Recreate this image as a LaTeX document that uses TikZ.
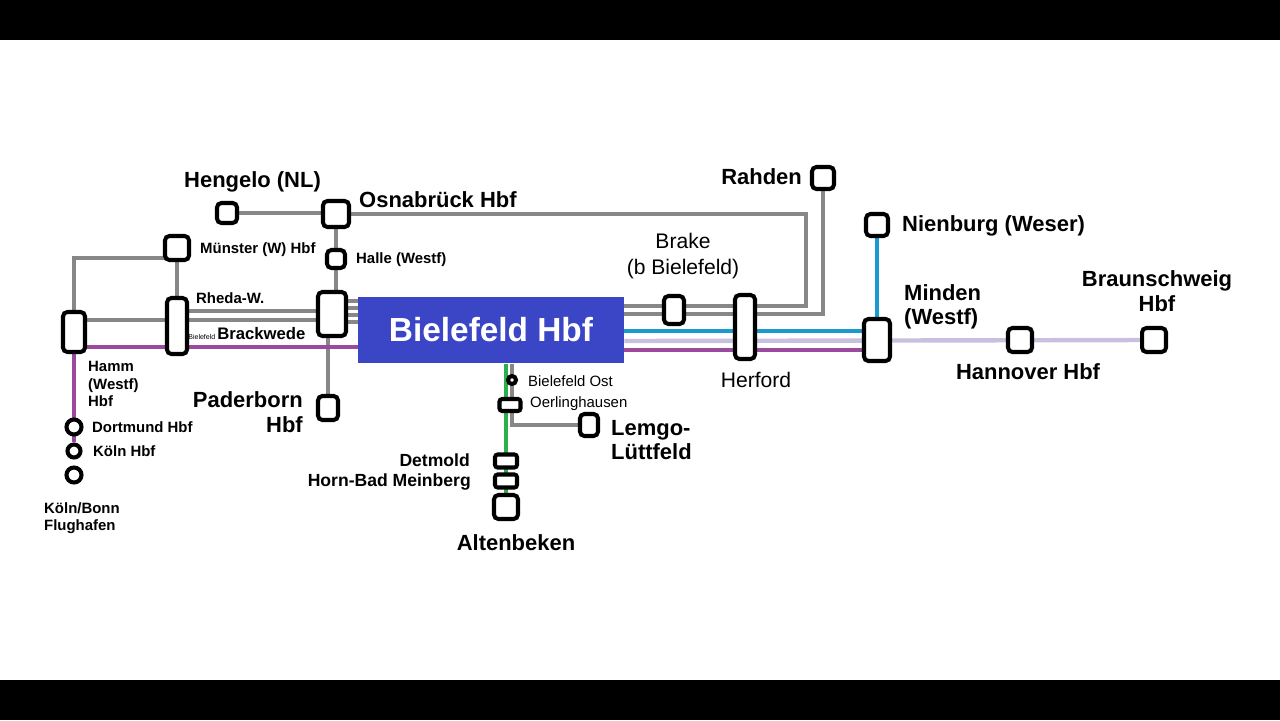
\documentclass[tikz,border=0pt]{standalone}
\usepackage{fontspec}
\setmainfont{Liberation Sans}
\usetikzlibrary{backgrounds, calc, positioning}

\definecolor{lgray}{HTML}{878787}
\definecolor{hbfblue}{HTML}{3B46C6}
\definecolor{lblue}{HTML}{1A9BD0}
\definecolor{lpurple}{HTML}{9B4A9E}
\definecolor{llav}{HTML}{C8C0DE}
\definecolor{lgreen}{HTML}{2EAF4E}

\begin{document}
\begin{tikzpicture}[x=0.02cm, y=-0.02cm]

% Stile
\tikzset{
    stn/.style={rectangle, rounded corners=2.5pt, draw, line width=2.3pt, fill=white, inner sep=0pt},
    rnd/.style={circle, draw, line width=2.3pt, fill=white, inner sep=0pt},
    big/.style={font=\bfseries\fontsize{12.5}{14}\selectfont, align=left},
    small/.style={font=\bfseries\fontsize{8.5}{10}\selectfont},
    thin/.style={font=\fontsize{8.5}{10}\selectfont},
    track/.style={line width=2.5pt}
}

\useasboundingbox (0,0) rectangle (1280,720);
\fill[black] (0,0) rectangle (1280,40);
\fill[black] (0,680) rectangle (1280,720);

% Bahnhöfe
\node (hbf) [rectangle, fill=hbfblue, minimum width=5.32cm, minimum height=1.34cm, text=white,
    font=\bfseries\fontsize{19}{22}\selectfont] at (491,330) {Bielefeld Hbf};
\node (hengelo) [stn, minimum size=0.4cm] at (227,213) {};
\node (osna) [stn, minimum size=0.52cm] at (336,214) {};
\node (halle) [stn, minimum size=0.36cm] at (336,259) {};
\node (muenster) [stn, minimum size=0.48cm] at (177,248) {};
\node (rheda) [stn, minimum width=0.4cm, minimum height=1.12cm] at (177,326) {};
\node (hamm) [stn, minimum width=0.44cm, minimum height=0.8cm] at (74,332) {};
\node (jct) [stn, minimum width=0.56cm, minimum height=0.88cm] at (332,314) {};
\node (pader) [stn, minimum width=0.4cm, minimum height=0.48cm] at (328,408) {};
\node (brake) [stn, minimum width=0.4cm, minimum height=0.56cm] at (674,310) {};
\node (herford) [stn, minimum width=0.4cm, minimum height=1.28cm] at (745,327) {};
\node (rahden) [stn, minimum size=0.44cm] at (823,178) {};
\node (nienburg) [stn, minimum size=0.44cm] at (877,225) {};
\node (minden) [stn, minimum width=0.52cm, minimum height=0.84cm] at (877,340) {};
\node (hannover) [stn, minimum size=0.48cm] at (1020,340) {};
\node (braunschw) [stn, minimum size=0.48cm] at (1154,340) {};
\node (ost) [rnd, minimum size=0.16cm] at (512,380) {};
\node (oerl) [stn, minimum width=0.42cm, minimum height=0.24cm, rounded corners=1.5pt] at (510,405) {};
\node (lemgo) [stn, minimum width=0.36cm, minimum height=0.44cm] at (589,425) {};
\node (detmold) [stn, minimum width=0.44cm, minimum height=0.26cm, rounded corners=1.5pt] at (506,461) {};
\node (horn) [stn, minimum width=0.44cm, minimum height=0.26cm, rounded corners=1.5pt] at (506,481) {};
\node (altenb) [stn, minimum size=0.48cm] at (506,507) {};
\node (dortmund) [rnd, minimum size=0.3cm] at (74,427) {};
\node (koeln) [rnd, minimum size=0.26cm] at (74,451) {};
\node (cgn) [rnd, minimum size=0.3cm] at (74,475) {};

% Beschriftungen
\node [big, anchor=west] at (178,182) {Hengelo (NL)};
\node [big, anchor=west] at (353,200) {Osnabrück Hbf};
\node [small, anchor=west] at (194,250) {Münster (W) Hbf};
\node [small, anchor=west] at (350,260) {Halle (Westf)};
\node [small, anchor=west] at (190,298) {Rheda-W.};
\node [anchor=west, inner sep=0pt] at (188,334) {\fontsize{4}{5}\selectfont Bielefeld\ \bfseries\fontsize{9.5}{11}\selectfont Brackwede};
\node [small, anchor=north west, align=left] at (82,355) {Hamm\\(Westf)\\Hbf};
\node [small, anchor=west] at (86,427) {Dortmund Hbf};
\node [small, anchor=west] at (87,451) {Köln Hbf};
\node [small, anchor=north west, align=left] at (38,496) {Köln/Bonn\\Flughafen};
\node [big, align=right, anchor=east] at (309,412) {Paderborn\\Hbf};
\node [thin, anchor=west] at (522,381) {Bielefeld Ost};
\node [thin, anchor=west] at (524,404) {Oerlinghausen};
\node [big, anchor=north west] at (605,414) {Lemgo-\\Lüttfeld};
\node [small, anchor=east, font=\bfseries\fontsize{10}{12}\selectfont] at (476,460) {Detmold};
\node [small, anchor=east, font=\bfseries\fontsize{10}{12}\selectfont] at (477,482) {Horn-Bad Meinberg};
\node [big, anchor=north] at (516,528) {Altenbeken};
\node [align=center, font=\fontsize{12}{15}\selectfont] at (683,256) {Brake\\(b Bielefeld)};
\node [font=\fontsize{12}{14}\selectfont] at (756,380) {Herford};
\node [big, anchor=east] at (808,177) {Rahden};
\node [big, anchor=west] at (896,226) {Nienburg (Weser)};
\node [big, anchor=north west] at (898,278) {Minden\\(Westf)};
\node [big] at (1028,372) {Hannover Hbf};
\node [big, align=center] at (1157,291) {Braunschweig\\Hbf};

% Strecken
\begin{scope}[on background layer]
\draw [track, lgray] (hengelo) -- (hengelo -| osna);
\draw [track, lgray] (osna) -- (osna -| 806,0) -- (806,306) -- (hbf.east |- 0,306);
\draw [track, lgray] (rahden) -- (823,314) -- (hbf.east |- 0,314);
\draw [track, lgray] (osna) -- (halle) -- (halle |- jct.north);
\draw [track, lgray] (pader |- jct.south) -- (pader);
\foreach \y in {301,308,315,322}
    \draw [track, lgray] (jct.east |- 0,\y) -- (hbf.west |- 0,\y);
\draw [track, lgray] (rheda.east |- 0,311) -- (jct.west |- 0,311);
\draw [track, lgray] (hamm.east |- 0,320) -- (jct.west |- 0,320);
\draw [track, lgray] (hamm) |- (muenster.center |- 0,258);
\draw [track, lgray] (muenster) -- (rheda);
\draw [track, lpurple] (hamm.east |- 0,347) -- (hbf.west |- 0,347);
\draw [track, lpurple] (hamm) -- (koeln);
\draw [track, lblue] (hbf.east |- 0,331) -- (minden.west |- 0,331);
\draw [track, lblue] (nienburg) -- (minden);
\draw [track, llav] (hbf.east |- 0,341) -- (braunschw);
\draw [track, lpurple] (hbf.east |- 0,350) -- (minden.west |- 0,350);
\draw [track, lgray] (hbf.south -| 512,0) -- (512,425) -- (lemgo);
\draw [track, lgreen] (hbf.south -| 506,0) -- (altenb);
\end{scope}

\end{tikzpicture}
\end{document}
